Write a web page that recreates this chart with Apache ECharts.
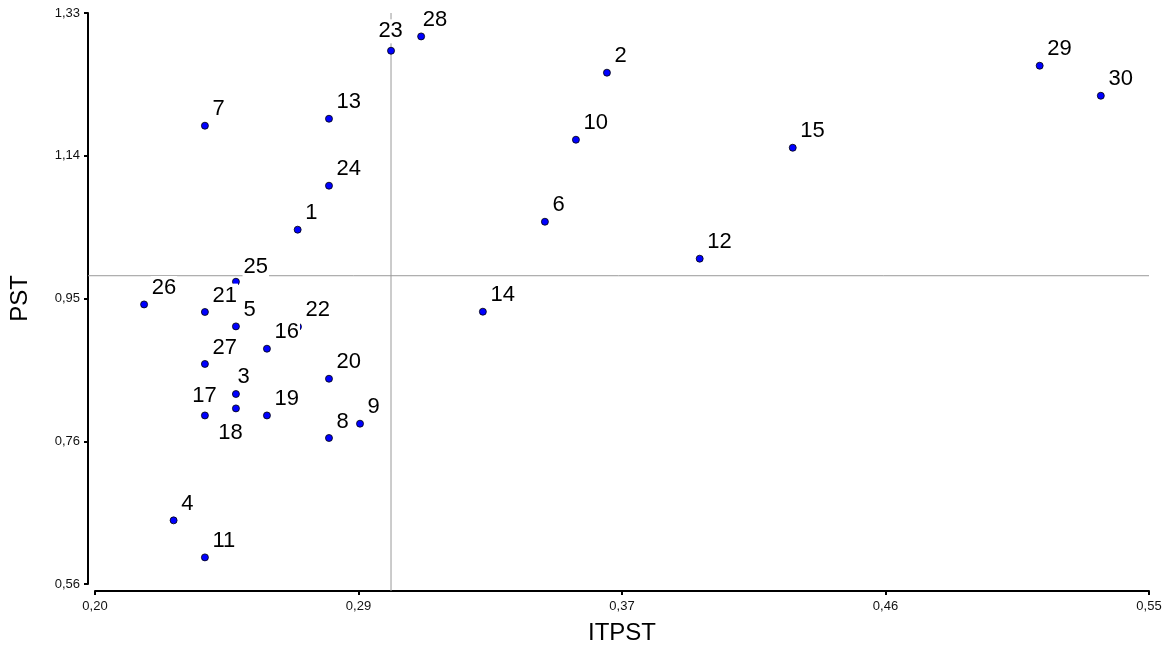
<!DOCTYPE html>
<html>
<head>
<meta charset="utf-8">
<script src="https://cdn.jsdelivr.net/npm/echarts@6/dist/echarts.min.js"></script>
<style>
  html, body { margin: 0; padding: 0; background: #fff; }
  #main { width: 1169px; height: 651px; }
</style>
</head>
<body>
<div id="main"></div>
<script>
// point ids and values
const ids = [1, 2, 3, 4, 5, 6, 7, 8, 9, 10, 11, 12, 13, 14, 15, 16, 17, 18, 19, 20, 21, 22, 23, 24, 25, 26, 27, 28, 29, 30]
const itpst = [0.2673, 0.3700, 0.2468, 0.2261, 0.2468, 0.3494, 0.2365, 0.2777, 0.2880, 0.3597,
  0.2365, 0.4008, 0.2777, 0.3288, 0.4317, 0.2571, 0.2365, 0.2468, 0.2571, 0.2777,
  0.2365, 0.2674, 0.2983, 0.2777, 0.2468, 0.2163, 0.2365, 0.3083, 0.5137, 0.5340]
const pst = [1.0378, 1.2495, 0.8162, 0.6458, 0.9074, 1.0485, 1.1780, 0.7569, 0.7762, 1.1591,
  0.5959, 0.9987, 1.1874, 0.9272, 1.1483, 0.8773, 0.7873, 0.7968, 0.7873, 0.8368,
  0.9268, 0.9070, 1.2791, 1.0971, 0.9676, 0.9370, 0.8567, 1.2984, 1.2589, 1.2184]

// reference lines
const refX = 0.2983
const refY = 0.9757

// axis ticks
const xTicks = [0.2, 0.2875, 0.375, 0.4625, 0.55]
const xTickLabels = ['0,20', '0,29', '0,37', '0,46', '0,55']
const yTicks = [0.56, 0.7525, 0.945, 1.1375, 1.33]
const yTickLabels = ['0,56', '0,76', '0,95', '1,14', '1,33']

// label nudges [dx, dy, align] from the point centre, default up-right
const nudge = {
  3: [1, -17, 'left'], 17: [0, -19, 'center'], 18: [-5, 25, 'center'],
  23: [0, -19, 'center'], 25: [7, -14, 'left'], 28: [1, -16, 'left']
}

const font = "'Liberation Sans', Arial, sans-serif"
const symSize = 7
const xMin = xTicks[0], xMax = xTicks[xTicks.length - 1]
const yMin = yTicks[0], yMax = yTicks[yTicks.length - 1]
// plot region reaches 7px past the first ticks (axis lines sit there)
const xExt = xMin - (xMax - xMin) * 7 / 1054
const yExt = yMin - (yMax - yMin) * 7 / 571

function tickLabel(ticks, labels) {
  return v => {
    let best = 0
    ticks.forEach((t, i) => { if (Math.abs(t - v) < Math.abs(ticks[best] - v)) best = i })
    return labels[best]
  }
}

const points = ids.map((id, i) => {
  const n = nudge[id] || [7, -16, 'left']
  return {
    value: [itpst[i], pst[i]],
    name: String(id),
    label: {position: [symSize / 2 + n[0], symSize / 2 + n[1]], align: n[2], verticalAlign: 'middle'}
  }
})

let chart = echarts.init(document.getElementById('main'))
let option = {
  animation: false,
  backgroundColor: '#fff',
  textStyle: {fontFamily: font},
  grid: [
    {left: 88, right: 20, top: 13, bottom: 60, outerBoundsMode: 'none'},
    {left: 95, right: 20, top: 13, bottom: 67, outerBoundsMode: 'none'}
  ],
  xAxis: [
    {gridIndex: 0, type: 'value', min: xExt, max: xMax, show: false},
    {
      gridIndex: 1, type: 'value', min: xMin, max: xMax, offset: 7,
      name: 'ITPST', nameLocation: 'middle', nameGap: 30,
      nameTextStyle: {fontSize: 24, color: '#000', fontFamily: font},
      axisLine: {lineStyle: {color: '#000', width: 2}},
      axisTick: {customValues: xTicks, length: 4, lineStyle: {color: '#000', width: 2}},
      axisLabel: {customValues: xTicks, formatter: tickLabel(xTicks, xTickLabels), fontSize: 13, color: '#111', margin: 9, fontFamily: font},
      splitLine: {show: false}
    }
  ],
  yAxis: [
    {gridIndex: 0, type: 'value', min: yExt, max: yMax, show: false},
    {
      gridIndex: 1, type: 'value', min: yMin, max: yMax, offset: 7,
      name: 'PST', nameLocation: 'middle', nameGap: 56,
      nameTextStyle: {fontSize: 24, color: '#000', fontFamily: font},
      axisLine: {lineStyle: {color: '#000', width: 2}},
      axisTick: {customValues: yTicks, length: 4, lineStyle: {color: '#000', width: 2}},
      axisLabel: {customValues: yTicks, formatter: tickLabel(yTicks, yTickLabels), fontSize: 13, color: '#111', margin: 8, fontFamily: font},
      splitLine: {show: false}
    }
  ],
  series: [
    {
      type: 'line', xAxisIndex: 0, yAxisIndex: 0, z: 1, symbol: 'none', silent: true,
      lineStyle: {color: '#999', width: 1},
      data: [[xExt, refY], [xMax, refY]]
    },
    {
      type: 'line', xAxisIndex: 0, yAxisIndex: 0, z: 1, symbol: 'none', silent: true,
      lineStyle: {color: '#999', width: 1},
      data: [[refX, yExt], [refX, yMax]]
    },
    {
      type: 'scatter', xAxisIndex: 0, yAxisIndex: 0, z: 3, clip: false,
      symbol: 'circle', symbolSize: symSize,
      itemStyle: {color: '#0000ff', borderColor: '#000', borderWidth: 0.8, opacity: 1},
      label: {
        show: true, formatter: '{b}',
        fontSize: 22, color: '#000', fontFamily: font,
        textBorderWidth: 0, backgroundColor: '#fff', padding: [1, 1]
      },
      labelLayout: {hideOverlap: false},
      emphasis: {disabled: true},
      data: points
    }
  ]
}
chart.setOption(option)
</script>
</body>
</html>
